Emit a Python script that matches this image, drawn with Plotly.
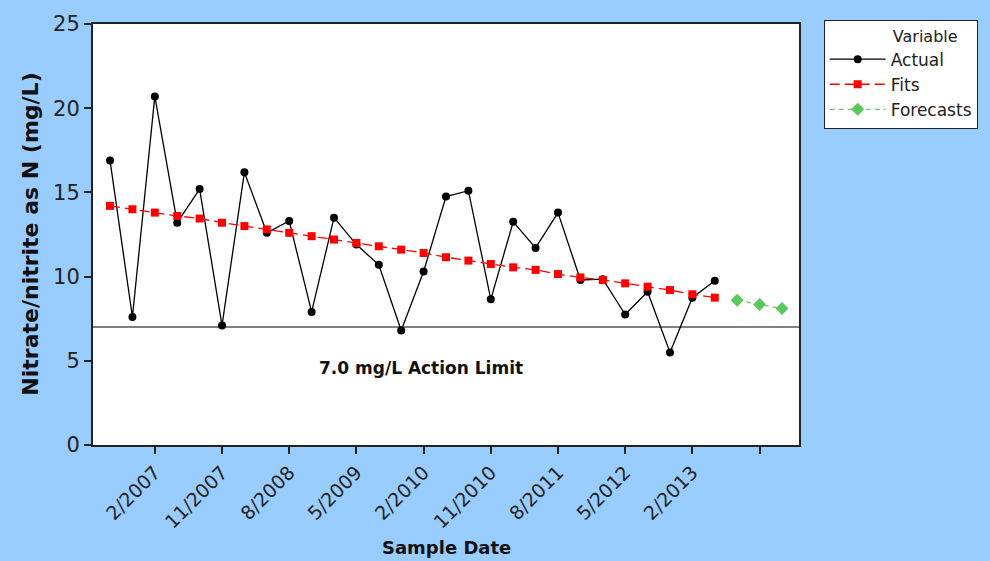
import plotly.graph_objects as go

# Quarterly nitrate/nitrite samples (mg/L as N), 8/2006 through 5/2013
actual = [16.9, 7.6, 20.7, 13.2, 15.2, 7.1, 16.2, 12.6, 13.3, 7.9,
          13.5, 11.9, 10.7, 6.8, 10.3, 14.75, 15.1, 8.65, 13.25, 11.7,
          13.8, 9.8, 9.85, 7.75, 9.1, 5.5, 8.75, 9.75]
# Linear trend fitted values
fits = [14.2, 14.0, 13.8, 13.6, 13.45, 13.2, 13.0, 12.8, 12.6, 12.4,
        12.2, 12.0, 11.8, 11.6, 11.4, 11.15, 10.95, 10.75, 10.55, 10.4,
        10.15, 9.95, 9.8, 9.6, 9.4, 9.2, 8.95, 8.75]
# Trend forecasts for the next three quarters
forecasts = [8.6, 8.35, 8.1]

tick_labels = ["2/2007", "11/2007", "8/2008", "5/2009", "2/2010",
               "11/2010", "8/2011", "5/2012", "2/2013", ""]
ACTION_LIMIT = 7.0
limit_text = "7.0 mg/L Action Limit"

n = len(actual)
idx = list(range(1, n + 1))
idx_fc = list(range(n + 1, n + 1 + len(forecasts)))
tick_vals = [3 * (k + 1) for k in range(len(tick_labels))]

FONT = "DejaVu Sans"
BG = "#99CCFF"

fig = go.Figure()
fig.add_trace(go.Scatter(
    x=idx, y=actual, name="Actual", mode="lines+markers",
    line=dict(color="black", width=1.3),
    marker=dict(symbol="circle", size=8, color="black")))
fig.add_trace(go.Scatter(
    x=idx, y=fits, name="Fits", mode="lines+markers",
    line=dict(color="#FF0000", width=1.3, dash="10px,5px"),
    marker=dict(symbol="square", size=8, color="#FF0000")))
fig.add_trace(go.Scatter(
    x=idx_fc, y=forecasts, name="Forecasts", mode="lines+markers",
    line=dict(color="#66CC66", width=1.3, dash="5px,4px"),
    marker=dict(symbol="diamond", size=10, color="#5CC85C")))

# Action limit reference line
fig.add_shape(type="line", xref="paper", x0=0, x1=1, yref="y",
              y0=ACTION_LIMIT, y1=ACTION_LIMIT,
              line=dict(color="#555555", width=1.5), layer="below")
fig.add_annotation(x=14.9, y=4.6, xref="x", yref="y", text=f"<b>{limit_text}</b>",
                   showarrow=False, font=dict(family=FONT, size=17, color="#111111"))

# Axis titles
fig.add_annotation(x=-0.089, y=0.5, xref="paper", yref="paper", xanchor="center",
                   text="<b>Nitrate/nitrite as N (mg/L)</b>", textangle=-90,
                   showarrow=False, font=dict(family=FONT, size=22, color="#111111"))
fig.add_annotation(x=0.5, y=-0.214, xref="paper", yref="paper", yanchor="top",
                   text="<b>Sample Date</b>", showarrow=False,
                   font=dict(family=FONT, size=18, color="#111111"))

fig.update_layout(
    width=990, height=561,
    margin=dict(l=93, r=190, t=20, b=116),
    paper_bgcolor=BG, plot_bgcolor="white",
    font=dict(family=FONT, color="#222222"),
    showlegend=True,
    legend=dict(
        x=1.035, y=1.01, xanchor="left", yanchor="top",
        bgcolor="white", bordercolor="#222222", borderwidth=1,
        font=dict(family=FONT, size=17, color="#222222"),
        itemwidth=56,
        title=dict(text="\u00a0" * 13 + "Variable",
                   font=dict(family=FONT, size=16, color="#222222")),
    ),
)
fig.update_xaxes(
    range=[0.24, 31.76], tickmode="array", tickvals=tick_vals, ticktext=tick_labels,
    tickangle=-45, ticks="outside", ticklen=7, tickwidth=1.5, tickcolor="#222222",
    showline=True, linecolor="#222222", linewidth=2, mirror=True,
    showgrid=False, zeroline=False,
    tickfont=dict(family=FONT, size=19, color="#222222"))
fig.update_yaxes(
    range=[0, 25], tickvals=[0, 5, 10, 15, 20, 25],
    ticks="outside", ticklen=7, tickwidth=1.5, tickcolor="#222222",
    showline=True, linecolor="#222222", linewidth=2, mirror=True,
    showgrid=False, zeroline=False,
    tickfont=dict(family=FONT, size=21, color="#222222"))

fig.write_html("out.html")
